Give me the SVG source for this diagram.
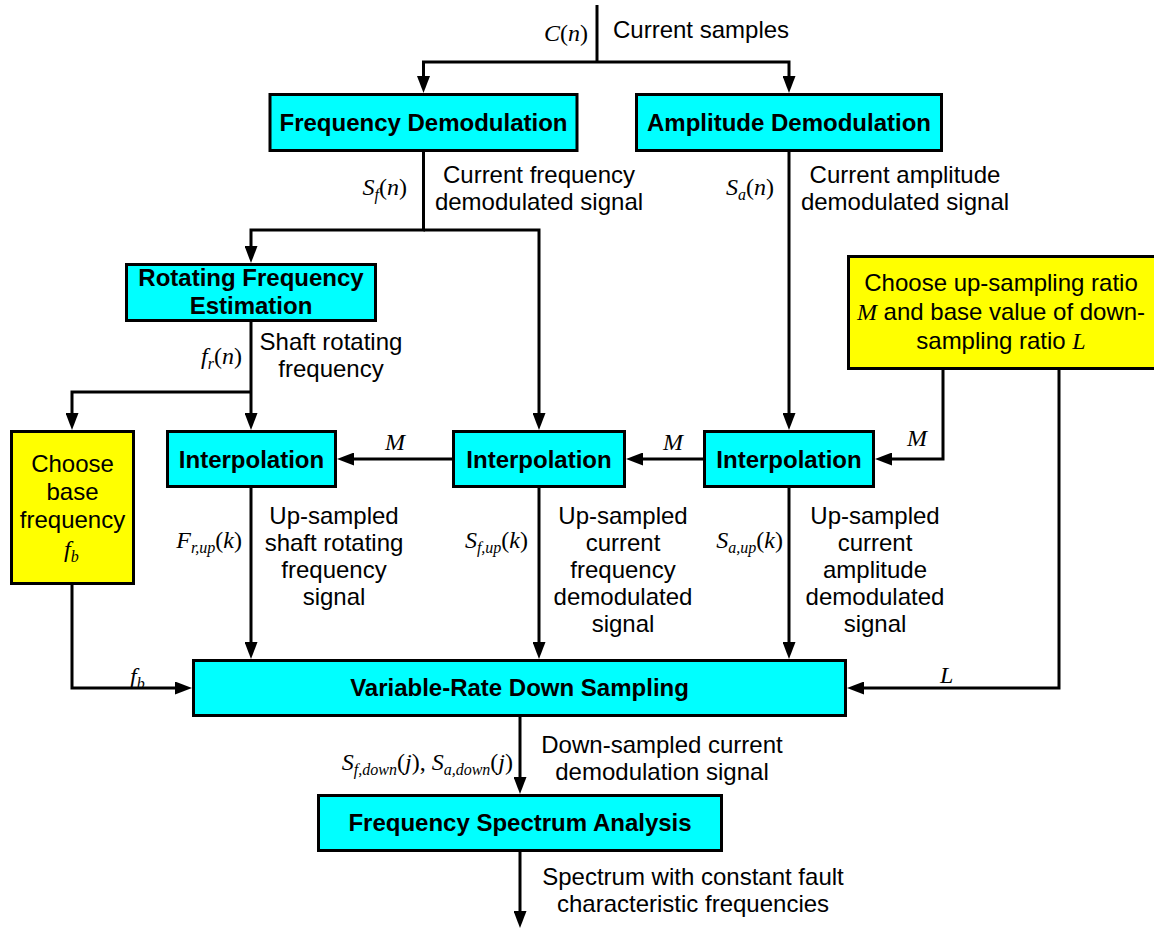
<svg xmlns="http://www.w3.org/2000/svg" width="1154" height="928" viewBox="0 0 1154 928">
  <style>
    .box{stroke:#000;stroke-width:3}
    .cy{fill:#00ffff}
    .ye{fill:#ffff00}
    .b{font-family:"Liberation Sans",Arial,sans-serif;font-weight:bold;font-size:24px;text-anchor:middle;fill:#000}
    .t{font-family:"Liberation Sans",Arial,sans-serif;font-size:24px;fill:#000}
    .mid{text-anchor:middle}
    .end{text-anchor:end}
    .m{font-family:"Liberation Serif","Times New Roman",serif;font-size:24px;fill:#000}
    .i{font-style:italic}
    .s{font-size:16px;font-style:italic}
    .wire{fill:none;stroke:#000;stroke-width:3}
  </style>
  <defs>
    <marker id="arr" markerUnits="userSpaceOnUse" viewBox="0 0 17 13" markerWidth="17" markerHeight="13" refX="7" refY="6.5" orient="auto">
      <path d="M0,0 L17,6.5 L0,13 z" fill="#000"/>
    </marker>
  </defs>

  <!-- connectors -->
  <g id="connectors" class="wire">
    <path d="M597,5 V62"/>
    <path d="M597,62 H423.5 V83" marker-end="url(#arr)"/>
    <path d="M597,62 H789 V83" marker-end="url(#arr)"/>
    <path d="M423.5,152 V230 H251 V253" marker-end="url(#arr)"/>
    <path d="M423.5,230 H539 V420" marker-end="url(#arr)"/>
    <path d="M789,152 V420" marker-end="url(#arr)"/>
    <path d="M251,322 V420" marker-end="url(#arr)"/>
    <path d="M251,392 H72 V420" marker-end="url(#arr)"/>
    <path d="M943,370 V459 H885" marker-end="url(#arr)"/>
    <path d="M1059,370 V688 H857" marker-end="url(#arr)"/>
    <path d="M703,459 H636" marker-end="url(#arr)"/>
    <path d="M452,459 H347" marker-end="url(#arr)"/>
    <path d="M251,488 V649" marker-end="url(#arr)"/>
    <path d="M539,488 V649" marker-end="url(#arr)"/>
    <path d="M789,488 V649" marker-end="url(#arr)"/>
    <path d="M72,585 V688 H182" marker-end="url(#arr)"/>
    <path d="M520,717 V784" marker-end="url(#arr)"/>
    <path d="M520,852 V918" marker-end="url(#arr)"/>
  </g>

  <!-- connector labels -->
  <g id="labels">
    <text class="m end" x="588" y="41"><tspan class="i">C</tspan>(<tspan class="i">n</tspan>)</text>
    <text class="t" x="613" y="38">Current samples</text>

    <text class="m end" x="407" y="195"><tspan class="i">S</tspan><tspan class="s" dy="5">f</tspan><tspan dy="-5">(</tspan><tspan class="i">n</tspan>)</text>
    <text class="t mid" x="539" y="183">Current frequency</text>
    <text class="t mid" x="539" y="210">demodulated signal</text>

    <text class="m end" x="774" y="195"><tspan class="i">S</tspan><tspan class="s" dy="5">a</tspan><tspan dy="-5">(</tspan><tspan class="i">n</tspan>)</text>
    <text class="t mid" x="905" y="183">Current amplitude</text>
    <text class="t mid" x="905" y="210">demodulated signal</text>

    <text class="m end" x="242" y="364"><tspan class="i">f</tspan><tspan class="s" dy="5">r</tspan><tspan dy="-5">(</tspan><tspan class="i">n</tspan>)</text>
    <text class="t mid" x="331" y="350">Shaft rotating</text>
    <text class="t mid" x="331" y="377">frequency</text>

    <text class="m" x="385" y="450"><tspan class="i">M</tspan></text>
    <text class="m" x="663" y="450"><tspan class="i">M</tspan></text>
    <text class="m" x="907" y="446"><tspan class="i">M</tspan></text>

    <text class="m end" x="242" y="548"><tspan class="i">F</tspan><tspan class="s" dy="5">r,up</tspan><tspan dy="-5">(</tspan><tspan class="i">k</tspan>)</text>
    <text class="t mid" x="334" y="524">Up-sampled</text>
    <text class="t mid" x="334" y="551">shaft rotating</text>
    <text class="t mid" x="334" y="578">frequency</text>
    <text class="t mid" x="334" y="605">signal</text>

    <text class="m end" x="528" y="548"><tspan class="i">S</tspan><tspan class="s" dy="5">f,up</tspan><tspan dy="-5">(</tspan><tspan class="i">k</tspan>)</text>
    <text class="t mid" x="623" y="524">Up-sampled</text>
    <text class="t mid" x="623" y="551">current</text>
    <text class="t mid" x="623" y="578">frequency</text>
    <text class="t mid" x="623" y="605">demodulated</text>
    <text class="t mid" x="623" y="632">signal</text>

    <text class="m end" x="783" y="548"><tspan class="i">S</tspan><tspan class="s" dy="5">a,up</tspan><tspan dy="-5">(</tspan><tspan class="i">k</tspan>)</text>
    <text class="t mid" x="875" y="524">Up-sampled</text>
    <text class="t mid" x="875" y="551">current</text>
    <text class="t mid" x="875" y="578">amplitude</text>
    <text class="t mid" x="875" y="605">demodulated</text>
    <text class="t mid" x="875" y="632">signal</text>

    <text class="m" x="130" y="684"><tspan class="i">f</tspan><tspan class="s" dy="5">b</tspan></text>
    <text class="m" x="940" y="683"><tspan class="i">L</tspan></text>

    <text class="m end" x="513" y="770"><tspan class="i">S</tspan><tspan class="s" dy="5">f,down</tspan><tspan dy="-5">(</tspan><tspan class="i">j</tspan>), <tspan class="i">S</tspan><tspan class="s" dy="5">a,down</tspan><tspan dy="-5">(</tspan><tspan class="i">j</tspan>)</text>
    <text class="t mid" x="662" y="753">Down-sampled current</text>
    <text class="t mid" x="662" y="780">demodulation signal</text>

    <text class="t mid" x="693" y="885">Spectrum with constant fault</text>
    <text class="t mid" x="693" y="912">characteristic frequencies</text>
  </g>

  <!-- nodes -->
  <g id="freq-demod">
    <rect class="box cy" x="270" y="94.5" width="307" height="56"/>
    <text class="b" x="423.5" y="131">Frequency Demodulation</text>
  </g>
  <g id="amp-demod">
    <rect class="box cy" x="636.5" y="94.5" width="305" height="56"/>
    <text class="b" x="789" y="131">Amplitude Demodulation</text>
  </g>
  <g id="rot-freq-est">
    <rect class="box cy" x="126.5" y="264.5" width="249" height="56"/>
    <text class="b" x="251" y="286">Rotating Frequency</text>
    <text class="b" x="251" y="314">Estimation</text>
  </g>
  <g id="choose-ratio">
    <rect class="box ye" x="848.5" y="256.5" width="310" height="112"/>
    <text class="t mid" x="1001" y="291">Choose up-sampling ratio</text>
    <text class="t mid" x="1001" y="320"><tspan class="m i">M</tspan> and base value of down-</text>
    <text class="t mid" x="1001" y="349">sampling ratio <tspan class="m i">L</tspan></text>
  </g>
  <g id="choose-base">
    <rect class="box ye" x="11.5" y="431.5" width="122" height="152"/>
    <text class="t mid" x="72.5" y="472">Choose</text>
    <text class="t mid" x="72.5" y="500">base</text>
    <text class="t mid" x="72.5" y="528">frequency</text>
    <text class="m" x="64" y="557"><tspan class="i">f</tspan><tspan class="s" dy="5">b</tspan></text>
  </g>
  <g id="interp-fr">
    <rect class="box cy" x="167.5" y="431.5" width="168" height="55"/>
    <text class="b" x="251.5" y="467.5">Interpolation</text>
  </g>
  <g id="interp-sf">
    <rect class="box cy" x="453.5" y="431.5" width="171" height="55"/>
    <text class="b" x="539" y="467.5">Interpolation</text>
  </g>
  <g id="interp-sa">
    <rect class="box cy" x="704.5" y="431.5" width="169" height="55"/>
    <text class="b" x="789" y="467.5">Interpolation</text>
  </g>
  <g id="var-rate-down">
    <rect class="box cy" x="193.5" y="660.5" width="652" height="55"/>
    <text class="b" x="519.5" y="696">Variable-Rate Down Sampling</text>
  </g>
  <g id="spectrum">
    <rect class="box cy" x="318.5" y="795.5" width="403" height="55"/>
    <text class="b" x="520" y="831">Frequency Spectrum Analysis</text>
  </g>
</svg>
